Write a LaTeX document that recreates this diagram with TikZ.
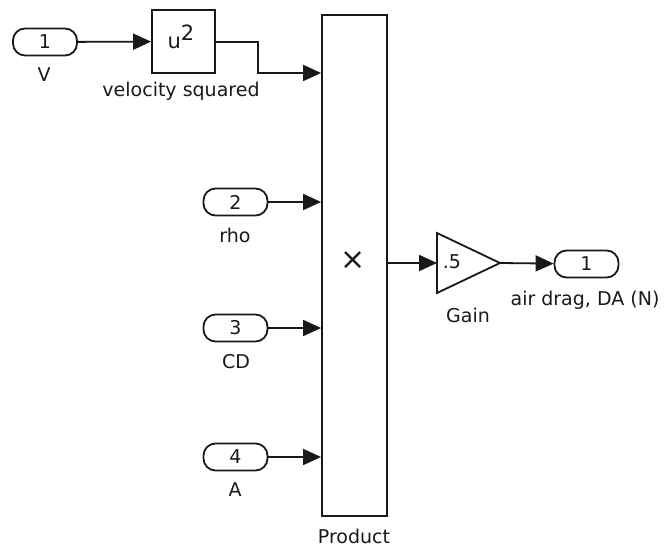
\documentclass[tikz,border=0pt]{standalone}
\usepackage{fontspec}
\setmainfont{DejaVu Sans}
\usetikzlibrary{arrows.meta}
\newcommand\lblfont{\fontsize{19}{21}\selectfont}
\begin{document}
\begin{tikzpicture}[x=1pt,y=-1pt,
  color=black!90, line width=1.8pt,
  port/.style={draw, rounded corners=12pt, minimum width=64pt, minimum height=27pt, inner sep=0pt, font=\lblfont},
  blk/.style={draw, inner sep=0pt},
  lbl/.style={font=\lblfont, inner sep=0pt},
  sig/.style={-{Triangle[length=18pt,width=16pt]}},
]
\useasboundingbox (0,0) rectangle (666,548);

% inports
\node[port] (in1) at (45,42) {1};
\node[lbl] (lV) at (44,75) {V};
\node[port] (in2) at (235.5,202) {2};
\node[lbl] (lrho) at (235,235) {rho};
\node[port] (in3) at (235.5,328) {3};
\node[lbl] (lCD) at (236,362) {CD};
\node[port] (in4) at (235.5,457) {4};
\node[lbl] (lA) at (235,490) {A};

% velocity squared
\node[blk, minimum width=63pt, minimum height=63pt] (usq) at (183.5,41.5) {};
\node[lbl] (usqt) at (181,37) {\fontsize{21}{21}\selectfont u\raisebox{8pt}{2}};
\node[lbl] (lvs) at (181,91) {velocity squared};

% product
\node[blk, minimum width=65pt, minimum height=501pt] (prod) at (354.5,265.5) {};
\node[lbl] (lx) at (353,261) {\fontsize{30}{30}\selectfont ×};
\node[lbl] (lprod) at (354,536) {Product};

% gain
\coordinate (gin) at (437,263);
\coordinate (gout) at (500,263);
\draw[line join=miter] (437,233) -- (gout) -- (437,293) -- cycle;
\node[lbl, anchor=west] (g5) at (442,262) {.5};
\node[lbl] (lgain) at (468,315) {Gain};

% outport
\node[port] (out) at (586.5,264) {1};
\node[lbl] (lout) at (585,300) {air drag, DA (N)};

% connectors
\coordinate (j1) at (258,73);
\draw[sig] (in1) -- (usq);
\draw[sig] (usq.east |- in1) -| (j1) -- (j1 -| prod.west);
\draw[sig] (in2) -- (in2 -| prod.west);
\draw[sig] (in3) -- (in3 -| prod.west);
\draw[sig] (in4) -- (in4 -| prod.west);
\draw[sig] (prod.east |- gin) -- (gin);
\draw[sig] (gout) -- (out);
\end{tikzpicture}
\end{document}
